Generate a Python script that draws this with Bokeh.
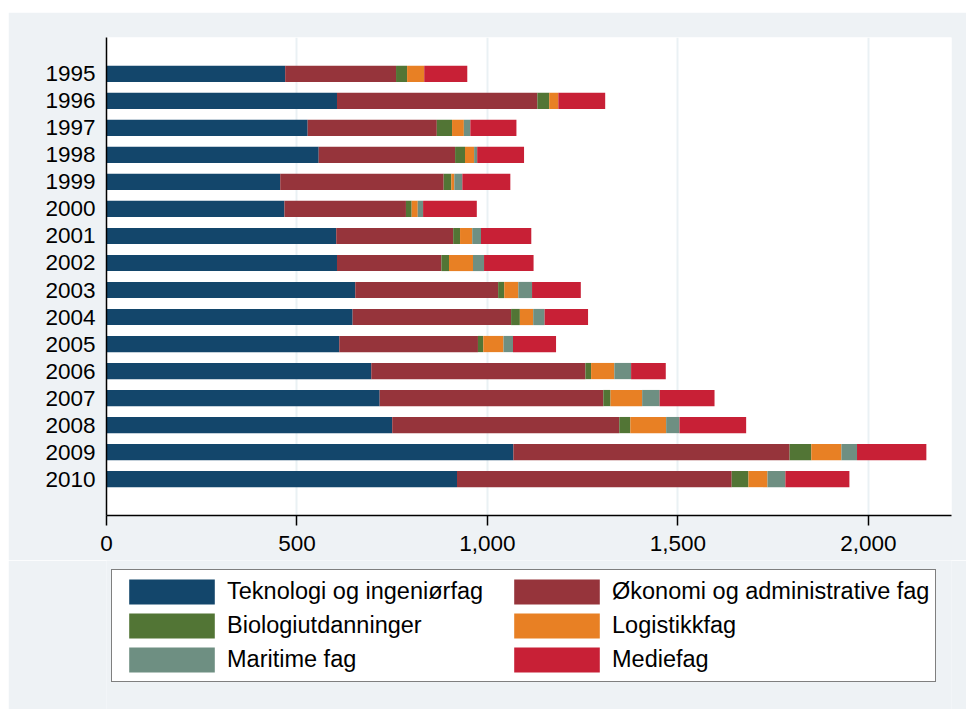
from bokeh.plotting import figure
from bokeh.models import (ColumnDataSource, FactorRange, Range1d, Legend, LegendItem,
                          NumeralTickFormatter, FixedTicker, Spacer)
from bokeh.layouts import column, row
from bokeh.embed import file_html
from bokeh.resources import INLINE

years = ["1995", "1996", "1997", "1998", "1999", "2000", "2001", "2002",
         "2003", "2004", "2005", "2006", "2007", "2008", "2009", "2010"]
teknologi = [469, 605, 528, 557, 456, 467, 603, 605, 653, 646, 611, 695, 717, 750, 1068, 920]
okonomi = [291, 526, 339, 358, 429, 319, 307, 274, 375, 416, 364, 562, 587, 596, 725, 721]
biologi = [29, 31, 40, 26, 20, 15, 18, 20, 16, 23, 14, 15, 19, 29, 57, 44]
logistikk = [45, 24, 31, 24, 8, 16, 32, 63, 37, 35, 53, 61, 83, 94, 79, 50]
maritime = [0, 0, 17, 8, 21, 14, 23, 29, 36, 30, 25, 44, 46, 35, 41, 47]
mediefag = [113, 123, 121, 123, 126, 141, 132, 130, 128, 114, 113, 91, 144, 175, 182, 168]
x_ticks = [0, 500, 1000, 1500, 2000]

series_keys = ["teknologi", "okonomi", "biologi", "logistikk", "maritime", "mediefag"]
labels = ["Teknologi og ingeniørfag", "Økonomi og administrative fag", "Biologiutdanninger",
          "Logistikkfag", "Maritime fag", "Mediefag"]
colors = ["#13466B", "#96343B", "#527535", "#E88024", "#6E8F82", "#C82036"]

source = ColumnDataSource(dict(year=years, teknologi=teknologi, okonomi=okonomi, biologi=biologi,
                               logistikk=logistikk, maritime=maritime, mediefag=mediefag))

FONT = "Liberation Sans"
BG = "#EEF2F5"

# ---- main chart ----
p = figure(width=958, height=548, output_backend="svg", toolbar_location=None,
           y_range=FactorRange(factors=list(reversed(years)), range_padding=0.106),
           x_range=Range1d(0, 2218),
           min_border_left=98, min_border_right=15, min_border_top=25, min_border_bottom=45)

p.hbar_stack(series_keys, y="year", height=0.6, color=colors, source=source, line_color=None)

p.background_fill_color = "white"
p.border_fill_color = BG
p.outline_line_color = None

p.ygrid.grid_line_color = None
p.xgrid.grid_line_color = "#EAF1F4"
p.xgrid.grid_line_width = 2
p.xgrid.ticker = FixedTicker(ticks=x_ticks)

p.xaxis.ticker = FixedTicker(ticks=x_ticks)
p.xaxis.formatter = NumeralTickFormatter(format="0,0")
p.xaxis.major_tick_out = 10
p.xaxis.major_tick_in = 0
p.xaxis.minor_tick_line_color = None
p.xaxis.major_tick_line_width = 1.5
p.xaxis.axis_line_width = 1.5
p.xaxis.axis_line_color = "black"
p.xaxis.major_tick_line_color = "black"
p.xaxis.major_label_text_font = FONT
p.xaxis.major_label_text_font_size = "22.5px"
p.xaxis.major_label_text_color = "black"
p.xaxis.major_label_standoff = 10

p.yaxis.major_tick_line_color = None
p.yaxis.minor_tick_line_color = None
p.yaxis.axis_line_width = 1.5
p.yaxis.axis_line_color = "black"
p.yaxis.major_label_text_font = FONT
p.yaxis.major_label_text_font_size = "22.5px"
p.yaxis.major_label_text_color = "black"
p.yaxis.major_label_standoff = 5

# ---- legend panel (hidden renderers, only the legend is shown) ----
q = figure(width=958, height=149, output_backend="svg", toolbar_location=None,
           x_range=Range1d(0, 2218), y_range=FactorRange(factors=years),
           x_axis_location=None, y_axis_location=None,
           min_border_left=0, min_border_right=0, min_border_top=0, min_border_bottom=0)
q.grid.grid_line_color = None
q.background_fill_color = BG
q.border_fill_color = BG
q.outline_line_color = None

swatches = q.hbar_stack(series_keys, y="year", height=0.6, color=colors, source=source,
                        line_color=None)
for r in swatches:
    r.visible = False
items = [LegendItem(label=lab, renderers=[r]) for lab, r in zip(labels, swatches)]
legend = Legend(items=items, orientation="horizontal", ncols=2, location=(5, 27),
                glyph_width=107, glyph_height=31, label_height=25, label_width=273,
                label_standoff=2, spacing=3, padding=6, margin=0,
                label_text_font=FONT, label_text_font_size="23.5px", label_text_color="black",
                border_line_color="black", border_line_width=1.5,
                background_fill_color="white", background_fill_alpha=1.0)
q.add_layout(legend, "center")

layout = column(Spacer(height=12, width=966),
                row(Spacer(width=8, height=697), column(p, q, spacing=0), spacing=0),
                spacing=0)
open("out.html", "w").write(file_html(layout, INLINE))
